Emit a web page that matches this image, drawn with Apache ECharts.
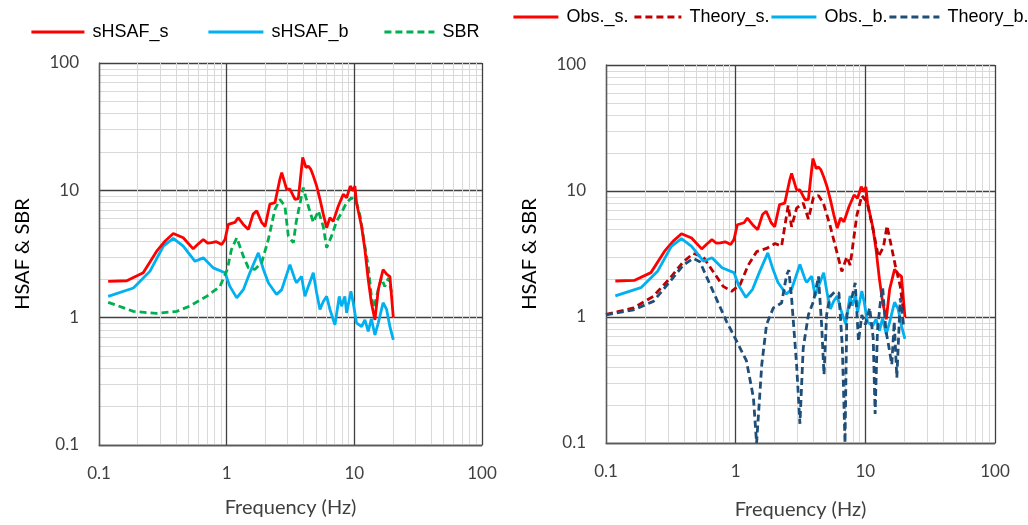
<!DOCTYPE html>
<html><head><meta charset="utf-8">
<script src="https://cdn.jsdelivr.net/npm/echarts@6/dist/echarts.min.js"></script>
<style>html,body{margin:0;padding:0;background:#fff}#c{width:1028px;height:525px}</style>
</head><body><div id="c"></div>
<script>
// Observed surface (sHSAF_s / Obs._s.)
const freqS = [0.118,0.165,0.222,0.283,0.33,0.382,0.457,0.547,0.6,0.656,0.71,0.763,0.83,0.914,0.97,1.03,1.16,1.23,1.35,1.48,1.61,1.72,1.88,2.0,2.18,2.39,2.61,2.7,2.95,3.13,3.43,3.64,3.94,4.18,4.36,4.55,4.77,5.07,5.38,5.71,6.07,6.44,6.84,7.48,8.19,8.7,9.3,9.8,10.1,10.4,11.4,12.1,12.85,13.6,14.5,15.4,16.8,17.9,19.0,20.2];
const ampS  = [1.93,1.95,2.25,3.33,4.0,4.58,4.24,3.47,3.8,4.11,3.85,3.88,3.95,3.76,4.11,5.4,5.6,6.1,5.4,4.93,6.5,6.9,5.6,5.2,7.8,8.0,12.2,13.8,10.2,10.2,8.5,8.6,18.1,15.1,15.5,14.7,13.0,10.8,8.5,6.5,5.08,6.1,5.7,7.5,9.3,8.75,10.8,9.9,10.8,8.0,5.2,3.43,1.99,1.31,0.96,1.66,2.39,2.2,2.1,1.0];
// Observed borehole (sHSAF_b / Obs._b.)
const freqB = [0.118,0.186,0.251,0.319,0.382,0.457,0.565,0.656,0.785,0.97,1.06,1.2,1.35,1.52,1.77,1.94,2.12,2.46,2.7,3.13,3.43,3.53,3.86,4.1,4.36,4.77,5.07,5.38,5.71,6.07,6.44,7.05,7.62,7.95,8.43,8.7,9.4,9.8,10.4,11.4,12.1,12.85,13.6,14.5,15.4,16.8,17.9,19.0,20.2];
const ampB  = [1.47,1.71,2.32,3.64,4.19,3.64,2.77,2.95,2.46,2.25,1.76,1.43,1.66,2.25,3.23,2.39,1.88,1.52,1.66,2.61,1.99,1.88,2.11,1.47,1.76,2.25,1.56,1.16,1.34,1.47,1.16,0.88,1.47,1.23,1.47,1.09,1.61,1.31,0.91,0.85,0.96,0.78,0.98,0.73,0.91,1.31,1.16,0.85,0.67];
// SBR
const freqR = [0.118,0.186,0.283,0.406,0.512,0.696,0.887,1.01,1.09,1.2,1.35,1.48,1.66,1.88,2.12,2.39,2.61,2.86,3.04,3.33,3.5,3.98,4.36,4.77,5.23,5.71,6.07,6.63,7.26,7.95,8.7,9.5,10.4,11.1,12.1,12.85,13.6,14.2,15.4,16.3,17.3,18.5,19.9];
const ampR  = [1.32,1.12,1.08,1.12,1.23,1.47,1.76,2.39,3.43,4.24,3.04,2.46,2.39,2.7,4.11,7.1,8.5,7.5,4.37,3.88,5.6,10.5,7.5,5.6,6.9,5.2,3.54,4.37,5.7,6.7,8.0,8.75,8.0,6.3,3.64,2.53,1.47,1.19,1.66,2.05,1.76,2.05,1.47];
// Theory surface
const freqTS = [0.1,0.163,0.232,0.311,0.394,0.471,0.562,0.671,0.802,0.93,1.08,1.25,1.45,1.73,2.01,2.26,2.54,2.7,2.95,3.32,3.64,3.98,4.35,4.75,5.35,6.02,6.59,7.2,7.64,8.6,9.4,10.3,11.6,12.6,13.8,14.7,16.0,17.0,18.6,19.7];
const ampTS  = [1.05,1.18,1.46,2.03,2.74,3.19,3.0,2.29,1.75,1.6,1.8,2.58,3.3,3.5,3.83,3.65,7.66,5.2,7.3,8.0,6.0,8.9,9.2,8.0,5.3,3.3,2.3,3.0,2.58,6.4,9.2,8.2,4.7,3.0,3.6,5.3,3.5,2.58,1.75,1.1];
// Theory borehole
const freqTB = [0.1,0.163,0.232,0.311,0.394,0.471,0.53,0.671,0.851,1.02,1.21,1.37,1.45,1.59,1.73,1.95,2.26,2.47,2.57,2.7,2.95,3.13,3.32,3.64,3.98,4.35,4.6,4.8,5.03,5.33,5.83,6.26,6.65,6.97,7.2,7.87,8.35,8.86,9.4,10,10.8,11.5,11.9,12.4,13.0,13.6,14.4,15.1,16.0,16.7,17.5,18.6,19.7];
const ampTB  = [1.04,1.14,1.33,1.91,2.58,2.92,2.74,1.59,0.92,0.64,0.45,0.23,0.1,0.42,0.87,1.18,1.29,2.15,2.36,1.41,0.42,0.142,0.57,1.04,1.33,2.1,0.87,0.35,1.04,1.45,1.59,1.55,0.57,0.1,1.04,1.41,1.87,0.64,1.04,0.87,1.18,0.68,0.17,0.78,1.26,1.72,0.78,0.6,0.42,0.92,0.33,1.41,0.87];

const pairs = (f, a) => f.map((v, i) => [v, a[i]]);
const tickFont = 'Lato';
const legendFont = '"Liberation Sans", Arial, sans-serif';

function xAx(gi, gap) {
  return {
    type: 'log', logBase: 10, gridIndex: gi, min: 0.1, max: 100,
    name: 'Frequency (Hz)', nameLocation: 'middle', nameGap: gap,
    nameTextStyle: { fontFamily: tickFont, fontSize: 20, color: '#404040' },
    axisLine: { lineStyle: { color: '#595959', width: 1.3 } },
    axisTick: { show: false },
    axisLabel: { fontFamily: tickFont, fontSize: 17, color: '#404040', margin: 20 },
    splitLine: { show: true, lineStyle: { color: '#404040', width: 1.3 } },
    minorTick: { show: false, splitNumber: 9 },
    minorSplitLine: { show: true, lineStyle: { color: '#d9d9d9', width: 1 } }
  };
}
function yAx(gi) {
  return {
    type: 'log', logBase: 10, gridIndex: gi, min: 0.1, max: 100,
    name: 'HSAF & SBR', nameLocation: 'middle', nameGap: 66,
    nameTextStyle: { fontFamily: tickFont, fontSize: 20, color: '#000' },
    axisLine: { show: true, lineStyle: { color: '#595959', width: 1.3 } },
    axisTick: { show: false },
    axisLabel: { fontFamily: tickFont, fontSize: 17, color: '#404040', margin: 20 },
    splitLine: { show: true, lineStyle: { color: '#404040', width: 1.3 } },
    minorTick: { show: false, splitNumber: 9 },
    minorSplitLine: { show: true, lineStyle: { color: '#d9d9d9', width: 1 } }
  };
}
function leg(name, left, top, w, fs) {
  return { data: [name], left: left, top: top, itemWidth: w, itemHeight: 14, padding: 0,
    itemStyle: { opacity: 0 },
    lineStyle: { opacity: 1, width: 2.8 },
    textStyle: { fontFamily: legendFont, fontSize: fs, color: '#000', padding: [0, 0, 0, 3] } };
}
function line(name, data, color, xi, dashed, z) {
  return { name: name, type: 'line', xAxisIndex: xi, yAxisIndex: xi, data: data,
    symbol: 'none', smooth: false, z: z,
    lineStyle: { color: color, width: 2.8, type: dashed ? [7, 4] : 'solid' },
    itemStyle: { color: color } };
}

const chart = echarts.init(document.getElementById('c'), null, { renderer: 'canvas' });
chart.setOption({
  animation: false,
  backgroundColor: '#fff',
  legend: [
    leg('sHSAF_s', 30, 23, 53, 18),
    leg('sHSAF_b', 207, 23, 55, 18),
    leg('SBR', 383, 23, 50, 18),
    leg('Obs._s.', 512, 8, 45, 18),
    leg('Theory_s.', 633, 8, 47, 18),
    leg('Obs._b.', 770, 8, 45, 18),
    leg('Theory_b.', 888, 8, 50, 18)
  ],
  grid: [
    { left: 99, top: 63, width: 383, height: 382 },
    { left: 606, top: 65, width: 389, height: 382 }
  ],
  xAxis: [xAx(0, 53), xAx(1, 57)],
  yAxis: [yAx(0), yAx(1)],
  series: [
    line('sHSAF_b', pairs(freqB, ampB), '#00b0f0', 0, false, 2),
    line('SBR', pairs(freqR, ampR), '#00b050', 0, true, 3),
    line('sHSAF_s', pairs(freqS, ampS), '#ff0000', 0, false, 4),
    line('Obs._s.', pairs(freqS, ampS), '#ff0000', 1, false, 2),
    line('Theory_s.', pairs(freqTS, ampTS), '#c00000', 1, true, 3),
    line('Obs._b.', pairs(freqB, ampB), '#00b0f0', 1, false, 4),
    line('Theory_b.', pairs(freqTB, ampTB), '#1f4e79', 1, true, 5)
  ]
});
</script></body></html>
